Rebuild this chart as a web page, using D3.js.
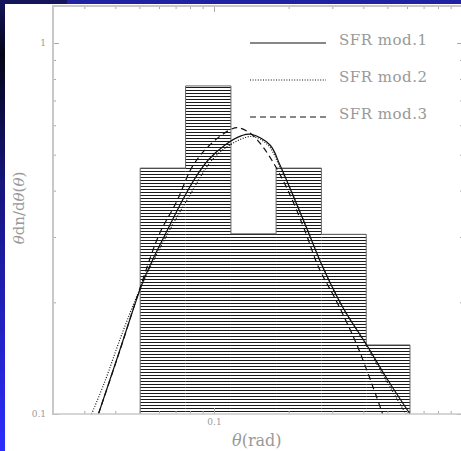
<!DOCTYPE html>
<html><head><meta charset="utf-8">
<script src="https://cdn.jsdelivr.net/npm/d3@7"></script>
<style>html,body{margin:0;padding:0;background:#fff;}svg{display:block;}</style>
</head><body>
<svg id="chart" width="461" height="451"></svg>
<script>
// ---- data ----
const binEdges = [0.0504, 0.0768, 0.117, 0.178, 0.271, 0.411, 0.617];
const binValues = [0.460, 0.766, 0.306, 0.460, 0.305, 0.1535];

const mod1Theta = [0.0342, 0.0411, 0.0511, 0.0561, 0.0634, 0.0741, 0.0838, 0.0948, 0.1108, 0.1293, 0.1410, 0.1682, 0.1845, 0.2025, 0.2365, 0.2760, 0.3322, 0.4128, 0.4970, 0.6170];
const mod1Value = [0.100, 0.1442, 0.2227, 0.2573, 0.3038, 0.3735, 0.4317, 0.4837, 0.5310, 0.5626, 0.5675, 0.5310, 0.4690, 0.4059, 0.3166, 0.2470, 0.1927, 0.1535, 0.1248, 0.100];

const mod2Theta = [0.0321, 0.0363, 0.0424, 0.0511, 0.0646, 0.0771, 0.0982, 0.1160, 0.1422, 0.1651, 0.1829, 0.2025, 0.2365, 0.2760, 0.3322, 0.4100, 0.4892, 0.5944];
const mod2Value = [0.100, 0.1223, 0.1633, 0.2227, 0.3038, 0.3735, 0.4837, 0.5310, 0.5598, 0.5310, 0.4690, 0.4059, 0.3166, 0.2470, 0.1927, 0.1535, 0.1248, 0.100];

const mod3Theta = [0.0342, 0.0418, 0.0508, 0.0600, 0.0707, 0.0825, 0.0994, 0.1179, 0.1253, 0.1397, 0.1533, 0.1709, 0.1970, 0.2306, 0.2652, 0.3125, 0.3819, 0.4787];
const mod3Value = [0.100, 0.1488, 0.2227, 0.3038, 0.3735, 0.4690, 0.5420, 0.5865, 0.5910, 0.5720, 0.5375, 0.4837, 0.4059, 0.3166, 0.2470, 0.2008, 0.1503, 0.100];

const legendLabels = ["SFR mod.1", "SFR mod.2", "SFR mod.3"];
const yTickLabels = [0.1, 1];
const xTickLabels = [0.1];
const yMinor = [0.2,0.3,0.4,0.5,0.6,0.7,0.8,0.9,2];
const xMinor = [0.03,0.04,0.05,0.06,0.07,0.08,0.09,0.2,0.3,0.4,0.5,0.6,0.7,0.8,0.9];

// ---- layout ----
const svg = d3.select("#chart");
const W = 461, H = 451;
const L = 53, R = 463, T = 6, B = 414;

// background (slide)
const defs = svg.append("defs");
const lg = defs.append("linearGradient").attr("id","side").attr("x1",0).attr("y1",0).attr("x2",0).attr("y2",1);
[[0,"#15155e"],[0.12,"#050518"],[0.4,"#15157a"],[1,"#2c2cff"]].forEach(s=>lg.append("stop").attr("offset",s[0]).attr("stop-color",s[1]));
svg.append("rect").attr("x",0).attr("y",0).attr("width",W).attr("height",H).attr("fill","url(#side)");
svg.append("rect").attr("x",67).attr("y",0).attr("width",W-67).attr("height",5).attr("fill","#2121a4");
svg.append("rect").attr("x",5).attr("y",4).attr("width",W-5).attr("height",H-4).attr("fill","#ffffff");

const x = d3.scaleLog().domain([0.02243, 1.0093]).range([L, R]);
const y = d3.scaleLog().domain([0.1, 1.258]).range([B, T]);

// hatch pattern
const pat = defs.append("pattern").attr("id","hatch").attr("patternUnits","userSpaceOnUse")
  .attr("width",8).attr("height",3).attr("y",0);
pat.append("rect").attr("x",0).attr("y",0).attr("width",8).attr("height",1).attr("fill","#1a1a1a");

const bins = binValues.map((v,i)=>({x0:binEdges[i], x1:binEdges[i+1], v}));
svg.append("g").selectAll("rect").data(bins).join("rect")
  .attr("x", d=>x(d.x0)).attr("width", d=>x(d.x1)-x(d.x0))
  .attr("y", d=>y(d.v)).attr("height", d=>B - y(d.v))
  .attr("fill","url(#hatch)");

// outline
let pts = [[binEdges[0], 0.1]];
bins.forEach(d=>{pts.push([d.x0,d.v]); pts.push([d.x1,d.v]);});
pts.push([binEdges[binEdges.length-1], 0.1]);
svg.append("path").attr("d", d3.line().x(d=>x(d[0])).y(d=>y(d[1]))(pts))
  .attr("fill","none").attr("stroke","#666").attr("stroke-width",1);

// curves
const line = d3.line().x(d=>x(d[0])).y(d=>y(d[1])).curve(d3.curveCatmullRom.alpha(0.5));
const series = [
  {t:mod1Theta, v:mod1Value, dash:null},
  {t:mod2Theta, v:mod2Value, dash:"1,1.6"},
  {t:mod3Theta, v:mod3Value, dash:"6,4"}
];
series.forEach(s=>{
  const p = svg.append("path").attr("d", line(s.t.map((t,i)=>[t,s.v[i]])))
    .attr("fill","none").attr("stroke","#111").attr("stroke-width",1.2);
  if (s.dash) p.attr("stroke-dasharray", s.dash);
});

// axes
const axCol = "#c8c8c8";
function styleAxis(g){
  g.select(".domain").remove();
  g.selectAll(".tick line").attr("stroke","#aaa").attr("stroke-width",1);
  g.selectAll("text").attr("fill","#999").attr("font-family","'DejaVu Serif','Liberation Serif',serif").attr("font-size",9);
}
// left
svg.append("g").attr("transform",`translate(${L},0)`)
  .call(d3.axisLeft(y).tickValues(yTickLabels).tickSize(-6).tickPadding(7).tickFormat(d3.format("~g"))).call(styleAxis);
svg.append("g").attr("transform",`translate(${L},0)`)
  .call(d3.axisLeft(y).tickValues(yMinor).tickSize(-3).tickFormat("")).call(styleAxis);
// right
svg.append("g").attr("transform",`translate(${R},0)`)
  .call(d3.axisRight(y).tickValues(yTickLabels).tickSize(-6).tickFormat("")).call(styleAxis);
svg.append("g").attr("transform",`translate(${R},0)`)
  .call(d3.axisRight(y).tickValues(yMinor).tickSize(-3).tickFormat("")).call(styleAxis);
// bottom
svg.append("g").attr("transform",`translate(0,${B})`)
  .call(d3.axisBottom(x).tickValues(xTickLabels).tickSize(-6).tickPadding(5).tickFormat(d3.format("~g"))).call(styleAxis);
svg.append("g").attr("transform",`translate(0,${B})`)
  .call(d3.axisBottom(x).tickValues(xMinor).tickSize(-3).tickFormat("")).call(styleAxis);
// top
svg.append("g").attr("transform",`translate(0,${T})`)
  .call(d3.axisTop(x).tickValues(xTickLabels).tickSize(-6).tickFormat("")).call(styleAxis);
svg.append("g").attr("transform",`translate(0,${T})`)
  .call(d3.axisTop(x).tickValues(xMinor).tickSize(-3).tickFormat("")).call(styleAxis);

// frame lines
svg.append("line").attr("x1",L).attr("x2",L).attr("y1",T-1).attr("y2",B+1).attr("stroke",axCol).attr("stroke-width",2);
svg.append("line").attr("x1",L-1).attr("x2",R).attr("y1",T).attr("y2",T).attr("stroke",axCol).attr("stroke-width",2);
svg.append("line").attr("x1",L-1).attr("x2",R).attr("y1",B).attr("y2",B).attr("stroke",axCol).attr("stroke-width",1.5);

// legend
const legY = [43, 80, 117];
const legDash = [null, "1,1.6", "6,4"];
legendLabels.forEach((lab,i)=>{
  const l = svg.append("line").attr("x1",250).attr("x2",326).attr("y1",legY[i]).attr("y2",legY[i])
    .attr("stroke","#111").attr("stroke-width",1.2);
  if (legDash[i]) l.attr("stroke-dasharray", legDash[i]);
  svg.append("text").attr("x",339).attr("y",legY[i]+1.5).text(lab)
    .attr("fill","#999").attr("font-family","'DejaVu Serif','Liberation Serif',serif")
    .attr("font-size",15).attr("textLength",88).attr("lengthAdjust","spacing");
});

// axis titles
const xt = svg.append("text").attr("x",232).attr("y",446).attr("fill","#999")
  .attr("font-family","'DejaVu Serif','Liberation Serif',serif").attr("font-size",16);
xt.append("tspan").attr("font-style","italic").text("θ");
xt.append("tspan").text("(rad)");

const yt = svg.append("text").attr("transform","translate(24,208) rotate(-90)").attr("text-anchor","middle")
  .attr("fill","#999").attr("font-family","'DejaVu Serif','Liberation Serif',serif").attr("font-size",15);
yt.append("tspan").attr("font-style","italic").text("θ");
yt.append("tspan").text("dn/d");
yt.append("tspan").attr("font-style","italic").text("θ");
yt.append("tspan").text("(");
yt.append("tspan").attr("font-style","italic").text("θ");
yt.append("tspan").text(")");
</script>
</body></html>
